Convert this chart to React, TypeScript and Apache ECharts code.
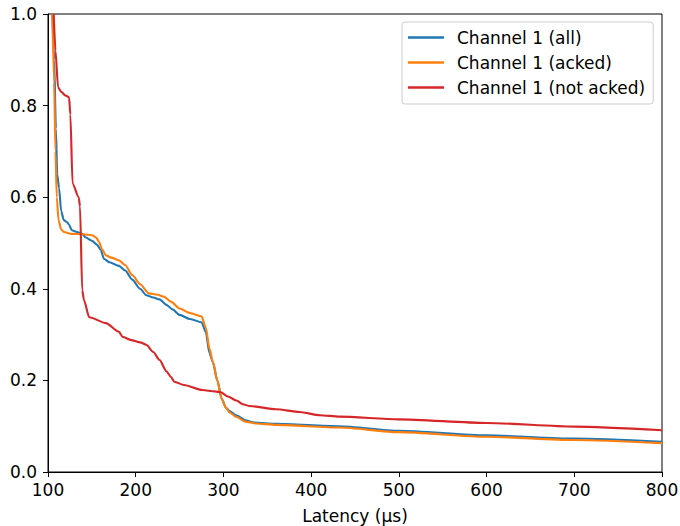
import React, { useEffect, useRef } from "react";
import * as echarts from "echarts";

const seriesNames = ["Channel 1 (all)", "Channel 1 (acked)", "Channel 1 (not acked)"];

const allX = [105, 107, 109, 110.5, 112.6, 115, 118, 122, 124, 127, 133, 139, 143, 150, 156, 160, 164, 170, 181, 188, 196, 205, 212, 220, 227, 235, 242, 250, 262, 275, 280, 284, 288, 293, 298, 303, 307, 315, 325, 335, 360, 432, 500, 600, 700, 800];
const allY = [1.0, 0.9, 0.75, 0.65, 0.62, 0.57, 0.55, 0.545, 0.54, 0.528, 0.524, 0.52, 0.512, 0.505, 0.496, 0.485, 0.465, 0.458, 0.45, 0.44, 0.42, 0.4, 0.386, 0.381, 0.377, 0.365, 0.355, 0.343, 0.334, 0.327, 0.305, 0.26, 0.24, 0.2, 0.16, 0.14, 0.133, 0.123, 0.113, 0.108, 0.105, 0.1, 0.09, 0.08, 0.073, 0.066];

const ackedX = [105, 107, 108.5, 110, 112, 115, 118, 127, 140, 150, 155, 158, 162, 166, 172, 181, 188, 196, 205, 215, 225, 232, 240, 250, 262, 275, 280, 284, 288, 293, 298, 303, 307, 315, 325, 337, 360, 432, 500, 600, 700, 800];
const ackedY = [1.0, 0.85, 0.7, 0.6, 0.55, 0.53, 0.524, 0.52, 0.519, 0.517, 0.512, 0.503, 0.485, 0.473, 0.468, 0.462, 0.452, 0.43, 0.41, 0.39, 0.387, 0.383, 0.372, 0.357, 0.347, 0.34, 0.315, 0.27, 0.24, 0.2, 0.16, 0.14, 0.13, 0.12, 0.11, 0.106, 0.103, 0.097, 0.087, 0.077, 0.07, 0.063];

const notAckedX = [106.5, 108.5, 111.5, 115, 120, 124, 125.5, 128, 135, 136.5, 139, 141, 147, 166, 181, 185, 195, 205, 212, 220, 227, 235, 240, 244, 255, 276, 290, 297, 305, 315, 322, 330, 360, 387, 410, 432, 500, 600, 700, 800];
const notAckedY = [1.0, 0.92, 0.84, 0.83, 0.822, 0.818, 0.78, 0.63, 0.6, 0.58, 0.397, 0.375, 0.338, 0.325, 0.306, 0.295, 0.288, 0.283, 0.278, 0.262, 0.245, 0.22, 0.208, 0.197, 0.19, 0.179, 0.176, 0.174, 0.165, 0.156, 0.148, 0.144, 0.137, 0.131, 0.124, 0.121, 0.115, 0.107, 0.099, 0.091];

const xTicks = [100, 200, 300, 400, 500, 600, 700, 800];
const yTicks = [0, 0.2, 0.4, 0.6, 0.8, 1.0];

const colors = ["#1f77b4", "#ff7f0e", "#d62728"];

const zip = (xs: number[], ys: number[]) => xs.map((x, i) => [x, ys[i]]);

export default function App() {
  const ref = useRef<HTMLDivElement>(null);
  useEffect(() => {
    if (!ref.current) return;
    const chart = echarts.init(ref.current, null, { renderer: "svg" });
    const font = "DejaVu Sans";
    const fs = 17;
    const dataSets = [zip(allX, allY), zip(ackedX, ackedY), zip(notAckedX, notAckedY)];
    chart.setOption({
      animation: false,
      backgroundColor: "#fff",
      textStyle: { fontFamily: font },
      grid: {
        left: 48,
        right: 18,
        top: 14,
        bottom: 54,
        containLabel: false,
        outerBoundsMode: "none",
        show: true,
        borderColor: "#000",
        borderWidth: 1,
        backgroundColor: "transparent",
      },
      legend: {
        left: 402,
        top: 22,
        orient: "vertical",
        data: seriesNames,
        icon: "rect",
        itemWidth: 36,
        itemHeight: 2.5,
        itemGap: 0,
        padding: [3, 8, 4, 6],
        backgroundColor: "rgba(255,255,255,0.8)",
        borderColor: "#cccccc",
        borderWidth: 1,
        borderRadius: 3,
        textStyle: {
          fontFamily: font,
          fontSize: fs,
          color: "#000",
          lineHeight: 25,
          padding: [0, 0, 0, 8],
        },
      },
      xAxis: {
        type: "value",
        min: xTicks[0],
        max: xTicks[xTicks.length - 1],
        interval: 100,
        name: "Latency (µs)",
        nameLocation: "middle",
        nameGap: 35,
        nameTextStyle: { fontFamily: font, fontSize: fs, color: "#000" },
        axisLine: { show: true, onZero: false, lineStyle: { color: "#000", width: 1 } },
        axisTick: { show: true, length: 5, lineStyle: { color: "#000" } },
        axisLabel: {
          fontFamily: font,
          fontSize: fs,
          color: "#000",
          margin: 9,
          formatter: (v: number) => String(Math.round(v)),
        },
        splitLine: { show: false },
      },
      yAxis: {
        type: "value",
        min: yTicks[0],
        max: yTicks[yTicks.length - 1],
        interval: 0.2,
        axisLine: { show: true, onZero: false, lineStyle: { color: "#000", width: 1 } },
        axisTick: { show: true, length: 5, lineStyle: { color: "#000" } },
        axisLabel: {
          fontFamily: font,
          fontSize: fs,
          color: "#000",
          margin: 11,
          formatter: (v: number) => v.toFixed(1),
        },
        splitLine: { show: false },
      },
      series: seriesNames.map((name, i) => ({
        name,
        type: "line",
        data: dataSets[i],
        showSymbol: false,
        symbol: "none",
        smooth: 0.25,
        smoothMonotone: "x",
        clip: true,
        lineStyle: { color: colors[i], width: 2.1 },
        itemStyle: { color: colors[i] },
        z: 2 + i,
      })),
    });
    return () => chart.dispose();
  }, []);
  return (
    <div
      ref={ref}
      style={{ position: "fixed", left: 0, top: 0, width: 680, height: 526 }}
    />
  );
}
